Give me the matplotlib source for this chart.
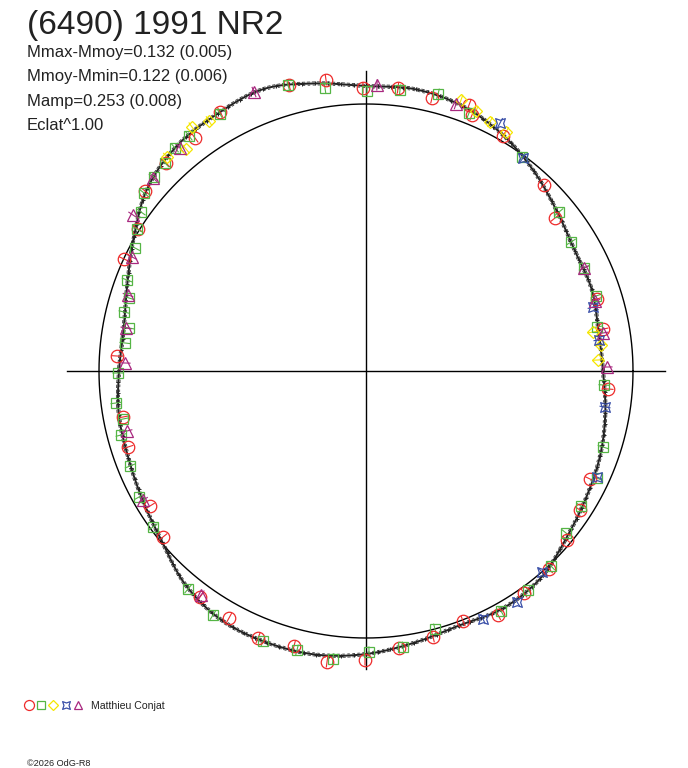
import numpy as np
import matplotlib
matplotlib.use("Agg")
import matplotlib.pyplot as plt
from matplotlib.path import Path

plt.rcParams['font.family'] = ['Liberation Sans', 'DejaVu Sans']

# ---------------- data ----------------
title = "(6490) 1991 NR2"
stats = ["Mmax-Mmoy=0.132 (0.005)",
         "Mmoy-Mmin=0.122 (0.006)",
         "Mamp=0.253 (0.008)",
         "Eclat^1.00"]
observer = "Matthieu Conjat"
copyright_txt = "\u00a92026 OdG-R8"

ref_radius = 267
axis_half = 298

curve_angle = list(range(0, 360, 10))
curve_r = [237, 236, 240, 241, 249, 261, 273, 282, 286, 285,
           292, 300, 297, 294, 285, 268, 254, 246, 247, 251,
           253, 258, 266, 280, 288, 289, 288, 283, 276, 271,
           274, 271, 261, 254, 249, 243]

red_x = [-77, -40, -3, 32, 66, 103, 106, 137, 178, 189, 231, 237, 242, 224, 214, 201, 183, 158, 132, 97,
         67, 33, -1, -39, -72, -108, -137, -166, -203, -216, -238, -243, -249, -242, -228, -221, -200, -171, -146]
red_y = [286, 291, 283, 283, 273, 266, 256, 235, 186, 153, 72, 42, -18, -108, -139, -169, -198, -222, -244, -250,
         -266, -277, -289, -291, -275, -267, -247, -226, -166, -135, -76, -46, 15, 112, 142, 180, 208, 233, 259]

green_x = [-78, -41, 1, 34, 72, 103, 156, 193, 205, 218, 230, 231, 238, 237, 231, 215, 200, 185, 162, 135,
           69, 37, 3, -33, -69, -103, -153, -178, -213, -227, -236, -245, -243, -250, -248, -241, -237, -242,
           -237, -239, -231, -229, -225, -222, -212, -201, -191, -177, -146]
green_y = [286, 283, 280, 281, 277, 258, 214, 159, 129, 103, 75, 44, -14, -76, -107, -135, -162, -195, -219, -240,
           -258, -276, -281, -288, -279, -270, -244, -218, -156, -126, -95, -64, -48, -32, -2, 28, 43, 59,
           73, 91, 123, 142, 159, 178, 194, 208, 223, 235, 257]

yellow_x = [-174, -157, -180, -199, 95, 110, 124, 140, 227, 235, 232]
yellow_y = [244, 250, 222, 214, 271, 260, 249, 239, 39, 26, 11]

blue_x = [134, 157, 227, 233, 239, 231, 176, 151, 117]
blue_y = [248, 213, 64, 31, -36, -106, -201, -231, -248]

magenta_x = [-112, 11, 90, -186, -213, -233, -234, -238, -240, -241, -239, -223, -165, 218, 229, 237, 241]
magenta_y = [279, 286, 267, 223, 193, 156, 114, 76, 43, 8, -60, -129, -224, 103, 70, 38, 4]

# ---------------- figure ----------------
W, H = 688, 768
CX, CY = 366, 371
fig = plt.figure(figsize=(W / 100, H / 100), dpi=100)
ax = fig.add_axes([0, 0, 1, 1])
ax.set_xlim(-CX, W - CX)
ax.set_ylim(-(H - CY), CY)
ax.set_aspect('equal')
ax.axis('off')

# axes cross
ax.plot([-axis_half - 1, axis_half + 1], [0, 0], color='black', lw=1.0)
ax.plot([0, 0], [-axis_half, axis_half + 2], color='black', lw=1.0)

# reference circle
t = np.linspace(0, 2 * np.pi, 721)
ax.plot(ref_radius * np.cos(t), ref_radius * np.sin(t), color='black', lw=1.0)

# model curve: periodic Catmull-Rom through the table (rendering only)
ang = np.radians(np.array(curve_angle, float))
rr = np.array(curve_r, float)
n = len(rr)
xs, ys = [], []
for i in range(n):
    p0, p1, p2, p3 = rr[(i - 1) % n], rr[i], rr[(i + 1) % n], rr[(i + 2) % n]
    a1 = ang[i]
    step = 2 * np.pi / n
    for s in np.linspace(0, 1, 12, endpoint=False):
        r_s = 0.5 * ((2 * p1) + (-p0 + p2) * s + (2 * p0 - 5 * p1 + 4 * p2 - p3) * s ** 2
                     + (-p0 + 3 * p1 - 3 * p2 + p3) * s ** 3)
        a_s = a1 + step * s
        xs.append(r_s * np.cos(a_s))
        ys.append(r_s * np.sin(a_s))
xs.append(xs[0]); ys.append(ys[0])
xs = np.array(xs); ys = np.array(ys)
rad = np.hypot(xs, ys)
ux, uy = xs / rad, ys / rad
ax.plot(xs, ys, color='#222222', lw=1.4, zorder=3)
ax.plot(xs + 1.6 * ux, ys + 1.6 * uy, color='#333333', lw=0.6, ls=(0, (4, 2)), zorder=3)
ax.plot(xs - 1.6 * ux, ys - 1.6 * uy, color='#333333', lw=0.6, ls=(0, (3, 3)), zorder=3)
ax.plot(xs[::3], ys[::3], ls='none', marker='+', ms=3.5, mew=0.7, color='#222222', zorder=3)

# custom concave-square marker
star_verts = [(-1, -1), (0, -0.65), (1, -1), (0.65, 0), (1, 1), (0, 0.65), (-1, 1), (-0.65, 0), (-1, -1)]
star_codes = [Path.MOVETO] + [Path.LINETO] * 7 + [Path.CLOSEPOLY]
star_marker = Path(star_verts, star_codes)

series = [
    (red_x, red_y, 'o', 9.0, '#ee2a2a'),
    (green_x, green_y, 's', 7.0, '#55b545'),
    (yellow_x, yellow_y, 'D', 6.5, '#f5e600'),
    (blue_x, blue_y, star_marker, 7.0, '#3a4fa8'),
    (magenta_x, magenta_y, '^', 8.0, '#a8287f'),
]

for sx, sy, mk, ms, col in series:
    sx = np.array(sx, float); sy = np.array(sy, float)
    rs = np.hypot(sx, sy)
    vx, vy = sx / rs, sy / rs
    for x0, y0, dx, dy in zip(sx, sy, vx, vy):
        ax.plot([x0 - 5 * dx, x0 + 5 * dx], [y0 - 5 * dy, y0 + 5 * dy], color=col, lw=0.8, zorder=4)
    ax.plot(sx, sy, ls='none', marker=mk, ms=ms, mfc='none', mec=col, mew=0.9, zorder=5)

# ---------------- texts ----------------
fig.text(27 / W, 1 - 34 / H, title, fontsize=24, color='#222222', va='baseline', ha='left')
for i, s in enumerate(stats):
    fig.text(27 / W, 1 - (57 + 24.5 * i) / H, s, fontsize=12, color='#222222', va='baseline', ha='left')

# legend
leg_x = [29, 41, 53, 66, 78]
for (sx, sy, mk, ms, col), lx in zip(series, leg_x):
    ax.plot([lx - CX], [CY - 705], ls='none', marker=mk, ms=ms * 0.8, mfc='none', mec=col, mew=0.9)
fig.text(91 / W, 1 - 709 / H, observer, fontsize=7.6, color='#222222', va='baseline', ha='left')
fig.text(27 / W, 1 - 766 / H, copyright_txt, fontsize=6.6, color='#222222', va='baseline', ha='left')

fig.savefig('out.png', dpi=100, facecolor='white')
